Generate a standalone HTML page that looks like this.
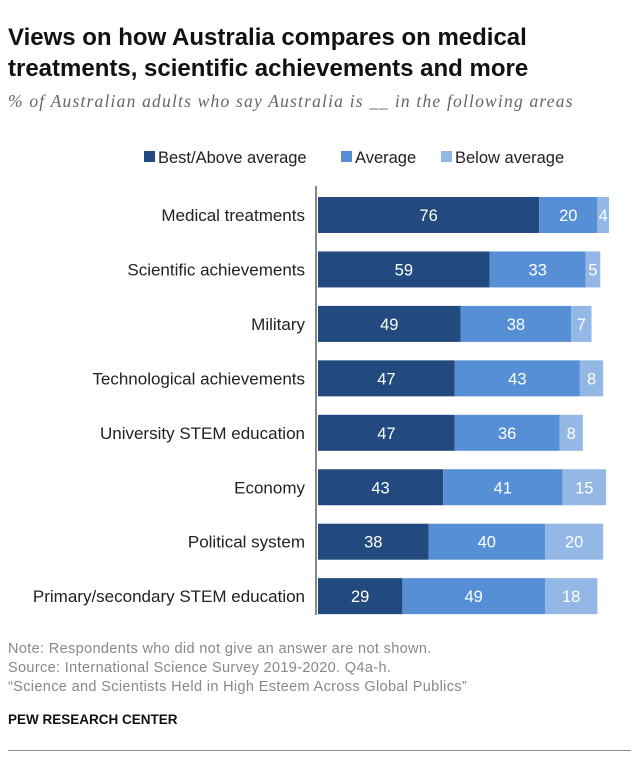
<!DOCTYPE html>
<html><head><meta charset="utf-8"><style>
body{margin:0;background:#fff;font-family:"Liberation Sans",Arial,sans-serif;}
#wrap{position:relative;width:639px;height:758px;overflow:hidden;}
.t{position:absolute;white-space:nowrap;}
</style></head><body>
<div id="wrap">
<div class="t" style="left:8px;top:22px;font-size:24px;font-weight:bold;line-height:31px;color:#111;">Views on how Australia compares on medical<br>treatments, scientific achievements and more</div>
<div class="t" style="left:8px;top:91px;font-size:17.5px;font-style:italic;color:#666;font-family:'Liberation Serif',serif;letter-spacing:1.2px;">% of Australian adults who say Australia is __ in the following areas</div>
<svg id="chart" width="639" height="758" style="position:absolute;left:0;top:0"></svg>
<div class="t" style="left:8px;top:640px;font-size:14.5px;line-height:19px;color:#888;letter-spacing:0.35px;">Note: Respondents who did not give an answer are not shown.<br>Source: International Science Survey 2019-2020. Q4a-h.<br>“Science and Scientists Held in High Esteem Across Global Publics”</div>
<div class="t" style="left:8px;top:712px;font-size:13.5px;font-weight:bold;color:#111;">PEW RESEARCH CENTER</div>
<div style="position:absolute;left:8px;top:750px;width:623px;height:1px;background:#888;"></div>
</div>
<script>
const categories=["Medical treatments","Scientific achievements","Military","Technological achievements","University STEM education","Economy","Political system","Primary/secondary STEM education"];
const best=[76,59,49,47,47,43,38,29];
const average=[20,33,38,43,36,41,40,49];
const below=[4,5,7,8,8,15,20,18];
const seriesNames=["Best/Above average","Average","Below average"];
const colors=["#234a7e","#578fd6","#93b8e6"];
const svg=document.getElementById('chart');
const NS='http://www.w3.org/2000/svg';
const x0=318,scale=2.91,rowTop=197,rowStep=54.45,barH=36;
const xPos=v=>x0+v*scale;
const yPos=i=>rowTop+i*rowStep;
function mk(tag,attrs,text){const e=document.createElementNS(NS,tag);for(const k in attrs)e.setAttribute(k,attrs[k]);if(text!==undefined)e.textContent=text;svg.appendChild(e);return e;}
const legX=[144,341,441];
seriesNames.forEach((n,j)=>{
  const r=mk('rect',{x:legX[j],y:151,width:11,height:11,fill:colors[j]});
  
  
  const t=mk('text',{x:legX[j]+14,y:163,'font-size':16.5,fill:'#222','font-family':'Liberation Sans, sans-serif'},n);
  
  
});
const series=[best,average,below];
categories.forEach((c,i)=>{
  const y=yPos(i);
  const lab=mk('text',{x:305,y:y+barH/2+6,'text-anchor':'end','font-size':17,fill:'#222','font-family':'Liberation Sans, sans-serif'},c);
  
  
  let acc=0;
  series.forEach((s,j)=>{
    const v=s[i];
    const r=mk('rect',{x:xPos(acc),y:y,width:v*scale,height:barH,fill:colors[j]});
    
    
    const t=mk('text',{x:xPos(acc+v/2),y:y+barH/2+6,'text-anchor':'middle','font-size':16.5,fill:'#fff','font-family':'Liberation Sans, sans-serif'},String(v));
    
    
    acc+=v;
  });
});
const ax=mk('line',{x1:316,x2:316,y1:186,y2:615,stroke:'#888','stroke-width':2});


</script>
</body></html>
